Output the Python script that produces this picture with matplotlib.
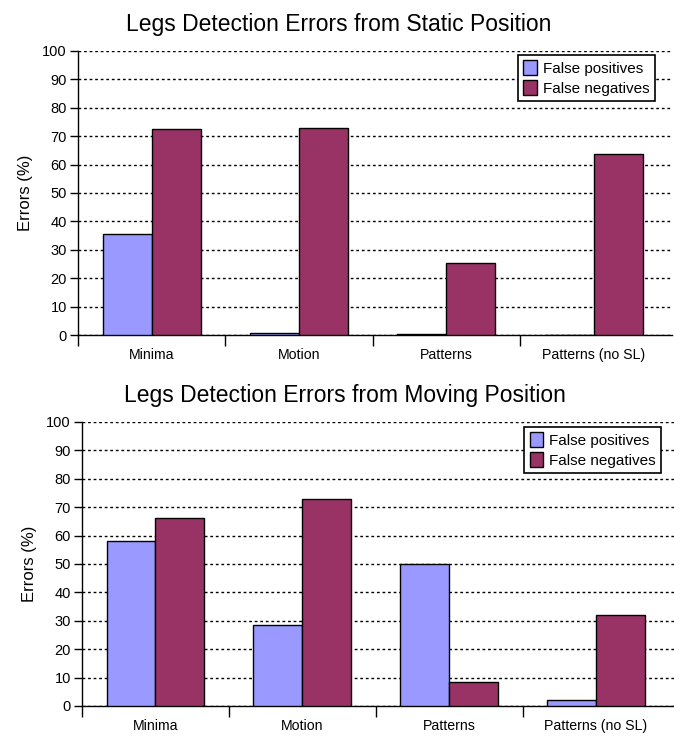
import matplotlib.pyplot as plt
import numpy as np

plt.rcParams['font.family'] = ['Liberation Sans', 'DejaVu Sans']

categories = ["Minima", "Motion", "Patterns", "Patterns (no SL)"]
series_names = ["False positives", "False negatives"]

static_fp = [35.5, 0.7, 0.3, 0.0]
static_fn = [72.5, 73.0, 25.3, 63.8]

moving_fp = [58.0, 28.5, 50.0, 2.2]
moving_fn = [66.0, 73.0, 8.5, 32.0]

colors = ["#9999FF", "#993366"]


def draw_chart(ax, fp, fn, title, title_x, legend_anchor):
    x = np.arange(len(categories))
    w = 0.333
    ax.bar(x - w / 2, fp, w, color=colors[0], edgecolor="black", linewidth=1,
           label=series_names[0], zorder=3)
    ax.bar(x + w / 2, fn, w, color=colors[1], edgecolor="black", linewidth=1,
           label=series_names[1], zorder=3)
    ax.set_ylim(0, 100)
    ax.set_xlim(-0.5, 3.53)
    ax.set_yticks(range(0, 101, 10))
    ax.yaxis.grid(True, linestyle=(0, (2, 2)), color="black", linewidth=1)
    ax.set_axisbelow(True)
    # category separators as major ticks, names as minor ticks
    ax.set_xticks([-0.5, 0.5, 1.5, 2.5])
    ax.set_xticklabels([])
    ax.set_xticks(x, minor=True)
    ax.set_xticklabels(categories, minor=True, fontsize=10.2)
    ax.tick_params(axis="x", which="major", length=8, width=1)
    ax.tick_params(axis="x", which="minor", length=0, pad=9.5)
    ax.tick_params(axis="y", length=6, width=1, labelsize=10.5, pad=2)
    for s in ["top", "right"]:
        ax.spines[s].set_visible(False)
    ax.spines["left"].set_linewidth(1)
    ax.spines["bottom"].set_linewidth(1)
    ax.set_ylabel("Errors (%)", fontsize=12, labelpad=7)
    ax.set_title(title, fontsize=16.5, pad=14.5, x=title_x)
    leg = ax.legend(loc="upper right", bbox_to_anchor=legend_anchor,
                    borderaxespad=0, fancybox=False, framealpha=1,
                    edgecolor="black", fontsize=11, handlelength=0.9,
                    handleheight=1.1, handletextpad=0.35, borderpad=0.35,
                    labelspacing=0.3)
    leg.get_frame().set_linewidth(1.2)


fig = plt.figure(figsize=(6.74, 7.36), dpi=100)
ax1 = fig.add_axes([0.1157, 0.5448, 0.881, 0.386])
ax2 = fig.add_axes([0.1217, 0.0408, 0.878, 0.386])

draw_chart(ax1, static_fp, static_fn,
           "Legs Detection Errors from Static Position", 0.439, (0.971, 0.986))
draw_chart(ax2, moving_fp, moving_fn,
           "Legs Detection Errors from Moving Position", 0.444, (0.978, 0.982))

fig.savefig("out.png", dpi=100)
